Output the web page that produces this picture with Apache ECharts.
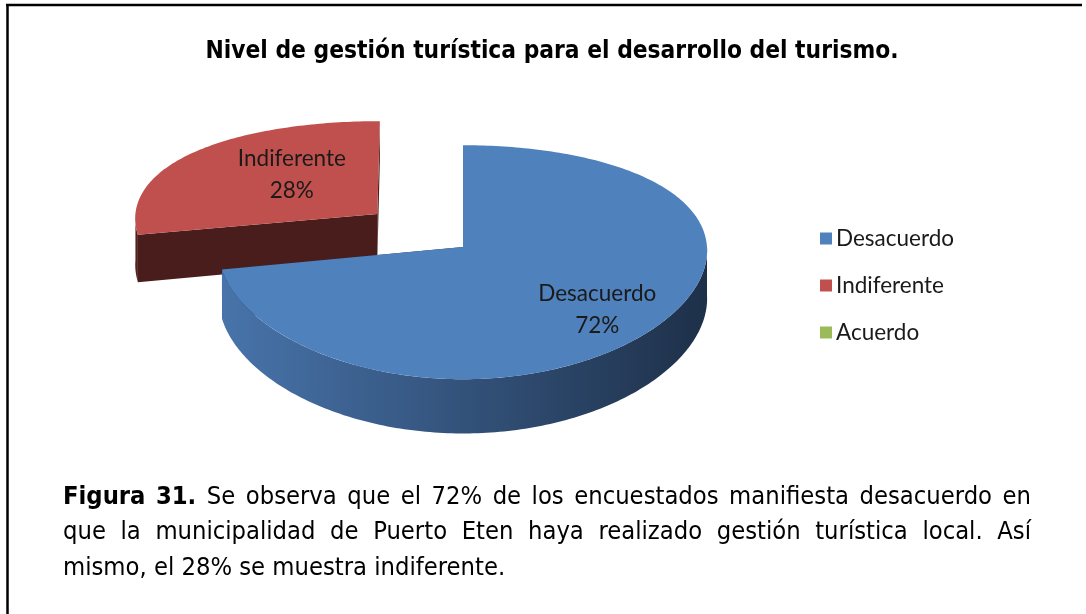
<!DOCTYPE html>
<html>
<head>
<meta charset="utf-8">
<style>
    html, body { margin: 0; padding: 0; background: #fff; }
    #chart { width: 1086px; height: 614px; }
</style>
<script src="https://cdn.jsdelivr.net/npm/echarts@6/dist/echarts.min.js"></script>
</head>
<body>
<div id="chart"></div>
<script>
// datos del grafico
const categories = ['Desacuerdo', 'Indiferente', 'Acuerdo'];
const values = [72, 28, 0];
const colors = ['#4f81bd', '#c0504d', '#9bbb59'];
const wallColors = [['#4874ab', '#1e3049'], ['#5a2322', '#4a1d1d'], ['#7a9444', '#55672f']];
const explode = [0, 0.46, 0];      // separacion de la porcion
const labelRadius = [0.72, 0.5, 0.6];
const labelShift = [[-3, 6], [6, -6], [0, 0]];

const titleText = 'Nivel de gestión turística para el desarrollo del turismo.';
const captionLines = [
    [['Figura 31.', true], ['Se observa que el 72% de los encuestados manifiesta desacuerdo en', false]],
    [['que la municipalidad de Puerto Eten haya realizado gestión turística local. Así', false]],
    [['mismo, el 28% se muestra indiferente.', false]]
];

// geometria del pastel 3D
const CX = 463, CY = 247, RX = 244, RY = 117, H = 48, K = 0.13, KX = 0.03;
const NARROW = '"Liberation Sans Narrow", "Arial Narrow", "DejaVu Sans Condensed", sans-serif';
const LABEL_FONT = 'Lato, "Open Sans", sans-serif';

const total = values.reduce((a, b) => a + b, 0);

function proj(u, v, z) {
    const s = 1 + K * v;
    return [CX + RX * u * (1 + KX * v), CY + (RY * v + H * z) * s];
}

function renderSlice(params, api) {
    const i = params.seriesIndex;
    const val = api.value(0);
    if (!val) {
        return { type: 'group', children: [] };
    }
    let start = 0;
    for (let j = 0; j < i; j++) start += values[j];
    const t1 = start / total * Math.PI * 2;
    const t2 = (start + val) / total * Math.PI * 2;
    const mid = (t1 + t2) / 2;
    const ou = explode[i] * Math.sin(mid);
    const ov = -explode[i] * Math.cos(mid);

    const arc = (a, b, z) => {
        const pts = [];
        const n = Math.max(2, Math.ceil((b - a) / (Math.PI / 180)));
        for (let k = 0; k <= n; k++) {
            const t = a + (b - a) * k / n;
            pts.push(proj(ou + Math.sin(t), ov - Math.cos(t), z));
        }
        return pts;
    };
    const edge = (t) => [
        proj(ou, ov, 0),
        proj(ou + Math.sin(t), ov - Math.cos(t), 0),
        proj(ou + Math.sin(t), ov - Math.cos(t), 1),
        proj(ou, ov, 1)
    ];

    const children = [];
    const dark = wallColors[i][1];
    children.push({ type: 'polygon', shape: { points: edge(t1) }, style: { fill: dark } });
    children.push({ type: 'polygon', shape: { points: edge(t2) }, style: { fill: dark } });

    const w1 = Math.max(t1, Math.PI / 2);
    const w2 = Math.min(t2, Math.PI * 1.5);
    if (w2 > w1) {
        const top = arc(w1, w2, 0);
        const bottom = arc(w1, w2, 1).reverse();
        children.push({
            type: 'polygon',
            shape: { points: top.concat(bottom) },
            style: {
                fill: new echarts.graphic.LinearGradient(0, 0, 1, 0, [
                    { offset: 0, color: wallColors[i][0] },
                    { offset: 1, color: wallColors[i][1] }
                ])
            }
        });
    }

    children.push({
        type: 'polygon',
        shape: { points: [proj(ou, ov, 0)].concat(arc(t1, t2, 0)) },
        style: { fill: colors[i] }
    });

    const lr = labelRadius[i];
    const lp = proj(ou + lr * Math.sin(mid), ov - lr * Math.cos(mid), 0);
    children.push({
        type: 'text',
        x: lp[0] + labelShift[i][0],
        y: lp[1] + labelShift[i][1],
        style: {
            text: categories[i] + '\n' + Math.round(val / total * 100) + '%',
            font: '22.5px ' + LABEL_FONT,
            fill: '#1a1a1a',
            align: 'center',
            verticalAlign: 'middle',
            lineHeight: 32
        }
    });
    return { type: 'group', children: children };
}

// texto justificado del pie de figura
function buildCaption() {
    const ctx = document.createElement('canvas').getContext('2d');
    const size = 25.3;
    const left = 63, right = 1031, top0 = 497, lineGap = 35.5;
    const els = [];
    captionLines.forEach((segs, li) => {
        const words = [];
        segs.forEach(([txt, bold]) => {
            txt.split(' ').forEach((w) => words.push({ w: w, bold: bold }));
        });
        words.forEach((o) => {
            o.font = (o.bold ? 'bold ' : '') + size + 'px ' + NARROW;
            ctx.font = o.font;
            o.width = ctx.measureText(o.w).width;
        });
        const sum = words.reduce((a, o) => a + o.width, 0);
        let gap;
        if (li < captionLines.length - 1) {
            gap = (right - left - sum) / (words.length - 1);
        } else {
            ctx.font = size + 'px ' + NARROW;
            gap = ctx.measureText(' ').width;
        }
        let x = left;
        words.forEach((o) => {
            els.push({
                type: 'text',
                x: x,
                y: top0 + li * lineGap,
                style: { text: o.w, font: o.font, fill: '#000', verticalAlign: 'middle' }
            });
            x += o.width + gap;
        });
    });
    return els;
}

const chart = echarts.init(document.getElementById('chart'));
chart.setOption({
    animation: false,
    title: {
        text: titleText,
        left: 547,
        textAlign: 'center',
        top: 35,
        textStyle: { fontFamily: NARROW, fontWeight: 'bold', fontSize: 24.3, color: '#000' }
    },
    legend: {
        orient: 'vertical',
        left: 815,
        top: 222,
        itemWidth: 12,
        itemHeight: 12,
        itemGap: 24,
        icon: 'rect',
        data: categories,
        textStyle: { fontFamily: LABEL_FONT, fontSize: 22.5, color: '#1a1a1a', padding: [0, 0, 0, -1] }
    },
    graphic: [
        { type: 'line', shape: { x1: 6, y1: 5, x2: 1082, y2: 5 }, style: { stroke: '#000', lineWidth: 2.5 } },
        { type: 'line', shape: { x1: 7.5, y1: 4, x2: 7.5, y2: 614 }, style: { stroke: '#000', lineWidth: 2.5 } }
    ].concat(buildCaption()),
    series: categories.map((name, i) => ({
        name: name,
        type: 'custom',
        coordinateSystem: 'none',
        z: i === 0 ? 3 : 2,
        itemStyle: { color: colors[i] },
        renderItem: renderSlice,
        data: [values[i]]
    }))
});
</script>
</body>
</html>
